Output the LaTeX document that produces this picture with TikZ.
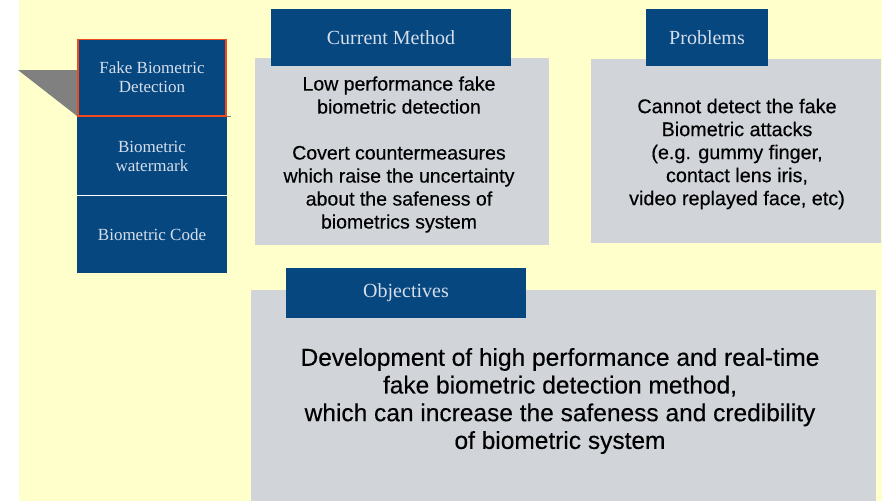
\documentclass[tikz,border=0pt]{standalone}
\usepackage{fontspec}
\setmainfont{Liberation Serif}
\newfontfamily\bodyfont[FakeBold=0.35]{Liberation Sans}
\definecolor{paper}{HTML}{FFFFCC}
\definecolor{navy}{HTML}{07477F}
\definecolor{panel}{HTML}{D1D5DA}
\definecolor{rim}{HTML}{F04A1E}
\definecolor{tabtext}{HTML}{D4DEEC}
\definecolor{flap}{HTML}{808080}
\tikzset{
  tab/.style={fill=navy, draw=none, inner sep=0pt, text=tabtext,
    font=\fontsize{20}{24}\selectfont},
  stackbox/.style={fill=navy, draw=none, inner sep=0pt, text=tabtext, align=center,
    minimum width=150pt, font=\fontsize{17}{19}\selectfont},
  panelbox/.style={fill=panel, draw=none, inner sep=0pt},
  bodytext/.style={align=center, text=black, inner sep=0pt},
}
\begin{document}
\begin{tikzpicture}[x=1pt, y=-1pt]
  % page background
  \fill[white] (0,0) rectangle (882,501);
  \fill[paper] (19,0) rectangle (882,501);
  \useasboundingbox (0,0) rectangle (882,501);

  % pointer flap behind the selected item
  \fill[flap] (18,70) -- (77,70) -- (77,116) -- cycle;
  \draw[flap, line width=1pt] (77,116) -- (231,116);

  % left stack of topics
  \node[stackbox, minimum height=79pt] (wm) at (152,156) {Biometric\\watermark};
  \node[stackbox, minimum height=77pt] (code) at (152,234.5) {Biometric Code};
  \draw[white, line width=1pt] (77,195.5) -- (227,195.5);
  \node[stackbox, draw=rim, line width=1.6pt,
        minimum width=148.4pt, minimum height=76.4pt] (fake) at (152,77.5)
        {Fake Biometric\\Detection};

  % panels
  \node[panelbox, minimum width=294pt, minimum height=187pt] (cmpanel) at (402,151.5) {};
  \node[panelbox, minimum width=290pt, minimum height=184pt] (prpanel) at (736,151) {};
  \node[panelbox, minimum width=625pt, minimum height=211pt] (obpanel) at (563.5,395.5) {};

  % panel headers
  \node[tab, minimum width=240pt, minimum height=57pt] (cmtab) at (391,37.5) {Current Method};
  \node[tab, minimum width=122pt, minimum height=57pt] (prtab) at (707,37.5) {Problems};
  \node[tab, minimum width=240pt, minimum height=50pt] (obtab) at (406,293) {Objectives};

  % panel texts
  \node[bodytext, font=\bodyfont\fontsize{19.5}{23}\selectfont] (cmtext) at (399,154.5)
    {Low performance fake\\biometric detection\\[23pt]
     Covert countermeasures\\which raise the uncertainty\\about the safeness of\\biometrics system};
  \node[bodytext, font=\bodyfont\fontsize{19.8}{23}\selectfont] (prtext) at (737,154)
    {Cannot detect the fake\\Biometric attacks\\(e.g. gummy finger,\\contact lens iris,\\video replayed face, etc)};
  \node[bodytext, font=\bodyfont\fontsize{24.5}{27.7}\selectfont] (obtext) at (560,401)
    {Development of high performance and real-time\\fake biometric detection method,\\which can increase the safeness and credibility\\of biometric system};
\end{tikzpicture}
\end{document}
